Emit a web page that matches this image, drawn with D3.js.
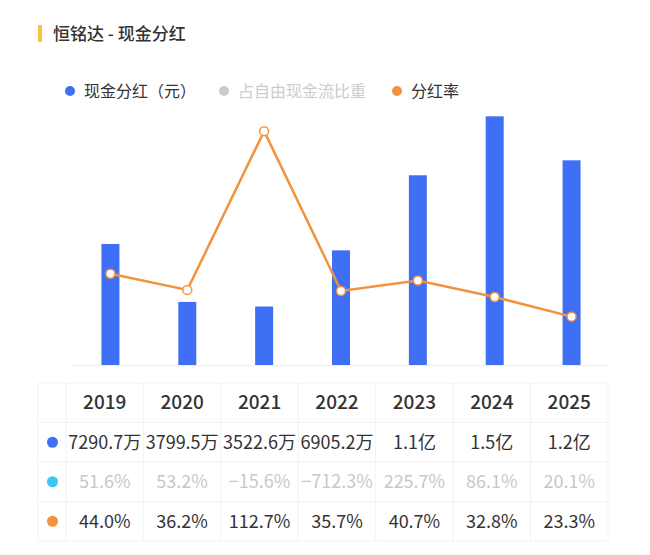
<!DOCTYPE html>
<html>
<head>
<meta charset="utf-8">
<script src="https://cdn.jsdelivr.net/npm/d3@7"></script>
<style>
    body { margin: 0; background: #fff; }
    svg { display: block; font-family: "Noto Sans CJK SC", "Noto Sans", sans-serif; }
</style>
</head>
<body>
<div id="chart"></div>
<script>
// 年份
var years = ['2019', '2020', '2021', '2022', '2023', '2024', '2025']
// 现金分红（万元）
var dividend = [7290.7, 3799.5, 3522.6, 6905.2, 11430, 14980, 12330]
// 占自由现金流比重（%）
var fcfRatio = [51.6, 53.2, -15.6, -712.3, 225.7, 86.1, 20.1]
// 分红率（%）
var payoutRatio = [44.0, 36.2, 112.7, 35.7, 40.7, 32.8, 23.3]
// 图例
var legendNames = ['现金分红（元）', '占自由现金流比重', '分红率']

var blue = '#3e6ff5'
var cyan = '#3cc7f2'
var orange = '#f3923e'
var width = 650
var height = 555
var plotLeft = 72
var plotRight = 610
var plotTop = 116
var plotBottom = 365

var svg = d3.select('#chart').append('svg')
    .attr('width', width)
    .attr('height', height)

//标题
svg.append('rect')
    .attr('x', 38).attr('y', 25)
    .attr('width', 4).attr('height', 17)
    .attr('rx', 1)
    .attr('fill', '#f6c344')
svg.append('text')
    .attr('x', 53).attr('y', 40)
    .attr('font-size', 17)
    .attr('font-weight', 500)
    .attr('fill', '#333')
    .text('恒铭达 - 现金分红')

//图例
var legendX = [70, 224, 397]
var legendColor = [blue, '#cccccc', orange]
var legendText = ['#333', '#cccccc', '#333']
var legend = svg.append('g').selectAll('g')
    .data(legendNames)
    .enter()
    .append('g')
legend.append('circle')
    .attr('cx', function (d, i) { return legendX[i] })
    .attr('cy', 91)
    .attr('r', 5)
    .attr('fill', function (d, i) { return legendColor[i] })
legend.append('text')
    .attr('x', function (d, i) { return legendX[i] + 14 })
    .attr('y', 96.5)
    .attr('font-size', 16)
    .attr('fill', function (d, i) { return legendText[i] })
    .text(function (d) { return d })

//比例尺
var X = d3.scaleBand().domain(years).range([plotLeft, plotRight]).paddingInner(0.766).paddingOuter(0.383)
var Y = d3.scaleLinear().domain([0, 15000]).range([plotBottom, plotTop])
var Y2 = d3.scaleLinear().domain([0, 120]).range([plotBottom, plotTop])

//底线
svg.append('line')
    .attr('x1', plotLeft - 1).attr('x2', plotRight - 2)
    .attr('y1', plotBottom + 0.5).attr('y2', plotBottom + 0.5)
    .attr('stroke', '#eceef2')
    .attr('stroke-width', 1)

//柱子
svg.append('g').selectAll('rect')
    .data(dividend)
    .enter()
    .append('rect')
    .attr('x', function (d, i) { return X(years[i]) })
    .attr('y', function (d) { return Y(d) })
    .attr('width', X.bandwidth())
    .attr('height', function (d) { return Y(0) - Y(d) })
    .attr('fill', blue)

//分红率折线
var line = d3.line()
    .x(function (d, i) { return X(years[i]) + X.bandwidth() / 2 })
    .y(function (d) { return Y2(d) })
svg.append('path')
    .datum(payoutRatio)
    .attr('d', line)
    .attr('fill', 'none')
    .attr('stroke', orange)
    .attr('stroke-width', 2.5)
svg.append('g').selectAll('circle')
    .data(payoutRatio)
    .enter()
    .append('circle')
    .attr('cx', function (d, i) { return X(years[i]) + X.bandwidth() / 2 })
    .attr('cy', function (d) { return Y2(d) })
    .attr('r', 4.5)
    .attr('fill', '#fff')
    .attr('stroke', orange)
    .attr('stroke-width', 1.5)

//表格
var tableLeft = 38
var firstCol = 28
var tableRight = 608
var tableTop = 383
var rowH = 39.5
var TX = d3.scaleBand().domain(years).range([tableLeft + firstCol, tableRight])

function fmtMoney(v) {
    if (v >= 10000) return (v / 10000).toFixed(1) + '亿'
    return v.toFixed(1) + '万'
}
function fmtPct(v) {
    return v.toFixed(1).replace('-', '−') + '%'
}

var rows = [
    { color: blue, text: '#333', values: dividend.map(fmtMoney) },
    { color: cyan, text: '#c8c8c8', values: fcfRatio.map(fmtPct) },
    { color: orange, text: '#333', values: payoutRatio.map(fmtPct) }
]

var table = svg.append('g')
//网格线
var gridColor = '#f1f2f4'
for (var r = 0; r <= 4; r++) {
    table.append('line')
        .attr('x1', tableLeft).attr('x2', tableRight)
        .attr('y1', tableTop + r * rowH).attr('y2', tableTop + r * rowH)
        .attr('stroke', gridColor)
}
var colEdges = [tableLeft].concat(years.map(function (d) { return TX(d) })).concat([tableRight])
colEdges.forEach(function (x) {
    table.append('line')
        .attr('x1', x).attr('x2', x)
        .attr('y1', tableTop).attr('y2', tableTop + 4 * rowH)
        .attr('stroke', gridColor)
})

//表头
table.selectAll('text.head')
    .data(years)
    .enter()
    .append('text')
    .attr('class', 'head')
    .attr('x', function (d) { return TX(d) + TX.bandwidth() / 2 })
    .attr('y', tableTop + rowH / 2 + 6.5)
    .attr('text-anchor', 'middle')
    .attr('font-size', 19)
    .attr('font-weight', 500)
    .attr('fill', '#333')
    .text(function (d) { return d })

rows.forEach(function (row, r) {
    var cy = tableTop + (r + 1.5) * rowH
    table.append('circle')
        .attr('cx', 52.5)
        .attr('cy', cy)
        .attr('r', 5.5)
        .attr('fill', row.color)
    table.selectAll('text.r' + r)
        .data(row.values)
        .enter()
        .append('text')
        .attr('class', 'r' + r)
        .attr('x', function (d, i) { return TX(years[i]) + TX.bandwidth() / 2 })
        .attr('y', cy + 6.5)
        .attr('text-anchor', 'middle')
        .attr('font-size', 18)
        .attr('fill', row.text)
        .text(function (d) { return d })
        .each(function () {
            var w = this.getComputedTextLength()
            if (w > TX.bandwidth() - 4) {
                d3.select(this)
                    .attr('textLength', TX.bandwidth() - 4)
                    .attr('lengthAdjust', 'spacingAndGlyphs')
            }
        })
})
</script>
</body>
</html>
